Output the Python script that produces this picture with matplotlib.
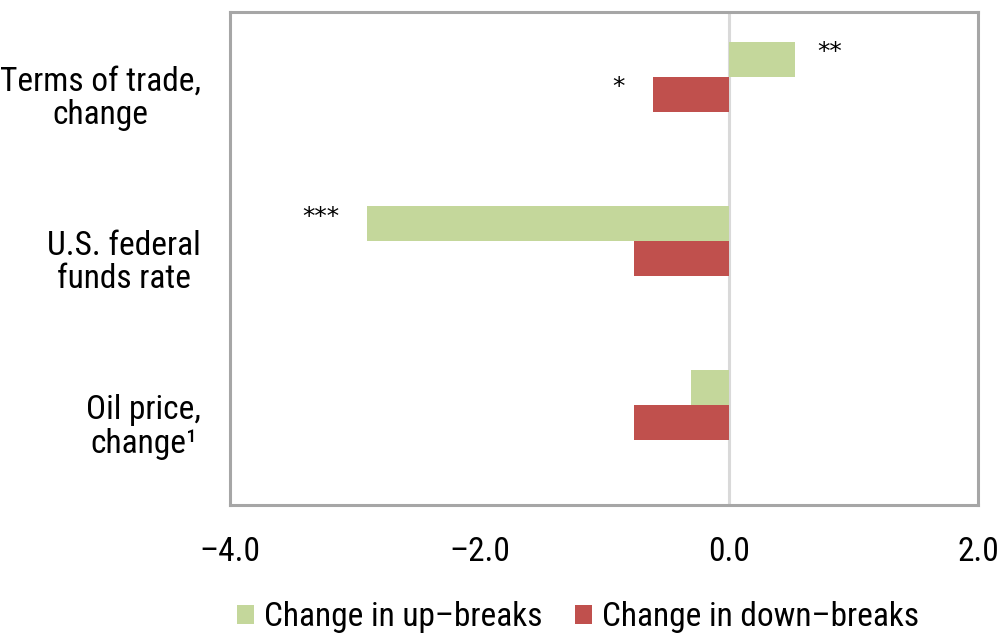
import matplotlib
matplotlib.use("Agg")
import matplotlib.pyplot as plt
import numpy as np

plt.rcParams['font.family'] = ['Roboto Condensed', 'Archivo Narrow', 'DejaVu Sans']

# Data
categories = ["Terms of trade,\nchange", "U.S. federal\nfunds rate", "Oil price,\nchange\u00b9"]
up_breaks = [0.53, -2.90, -0.30]
down_breaks = [-0.61, -0.76, -0.76]
up_stars = ["**", "***", ""]
down_stars = ["*", "", ""]
series_names = ["Change in up\u2013breaks", "Change in down\u2013breaks"]
x_ticks = [-4.0, -2.0, 0.0, 2.0]
x_tick_labels = ["\u20134.0", "\u20132.0", "0.0", "2.0"]

green = "#c4d79b"
red = "#c0504d"
frame = "#a6a6a6"

fig = plt.figure(figsize=(10, 6.34), dpi=100)
ax = fig.add_axes([0.23, 0.2035, 0.748, 0.7775])

pos = np.arange(len(categories))
h = 0.213
# three slots per category; the third one is left empty
b_up = ax.barh(pos - h, up_breaks, height=h, align='center', color=green, label=series_names[0])
b_dn = ax.barh(pos, down_breaks, height=h, align='center', color=red, label=series_names[1])

ax.axvline(0, color="#d9d9d9", lw=2.2, zorder=0.5)

# significance markers next to bar ends
for bars, stars in ((b_up, up_stars), (b_dn, down_stars)):
    for rect, s in zip(bars, stars):
        if not s:
            continue
        v = rect.get_width()
        yc = rect.get_y() + rect.get_height() / 2
        off = 16 if v >= 0 else -20
        ax.annotate(s, xy=(v, yc), xytext=(off, 5), textcoords='offset points',
                    ha='left' if v >= 0 else 'right', va='center', fontsize=18, color='black',
                    family='DejaVu Sans')

ax.set_xlim(-4, 2)
ax.set_ylim(2.5, -0.5)
ax.set_xticks(x_ticks)
ax.set_xticklabels(x_tick_labels, fontsize=24)
ax.set_yticks(pos)
ax.set_yticklabels(categories, fontsize=24, multialignment='center', linespacing=1.05)
ax.tick_params(axis='x', length=0, pad=22)
ax.tick_params(axis='y', length=0, pad=21)

for sp in ax.spines.values():
    sp.set_color(frame)
    sp.set_linewidth(2.2)

fig.legend(handles=[b_up, b_dn], labels=series_names, loc='center',
           bbox_to_anchor=(0.578, 1 - 617 / 634), ncol=2, frameon=False,
           fontsize=24, handlelength=0.5, handleheight=0.5, handletextpad=0.3,
           columnspacing=1.0, borderaxespad=0)

fig.savefig("out.png", dpi=100)
